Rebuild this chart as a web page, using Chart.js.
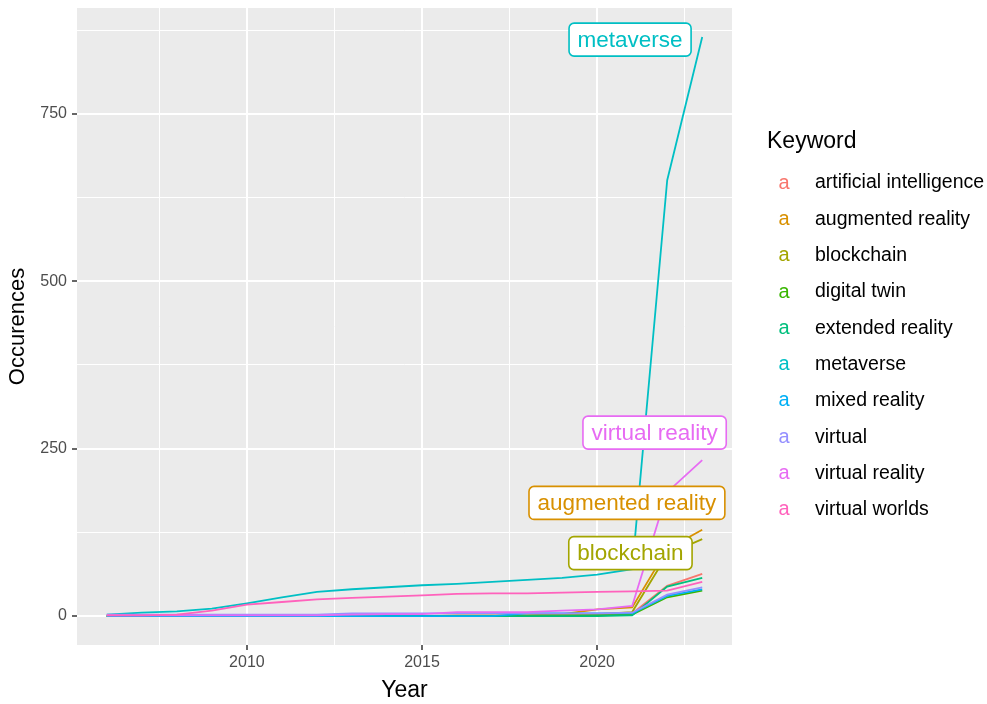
<html>
<head>
<meta charset="utf-8">
<script src="https://cdn.jsdelivr.net/npm/chart.js@4.4.0/dist/chart.umd.min.js"></script>
<style>
  body { margin:0; background:#ffffff; }
</style>
</head>
<body>
<canvas id="myChart" width="987" height="704"></canvas>
<script>
// data (cumulative occurences per year)
var years = [2006,2007,2008,2009,2010,2011,2012,2013,2014,2015,2016,2017,2018,2019,2020,2021,2022,2023];
var keywords = ['artificial intelligence','augmented reality','blockchain','digital twin','extended reality',
                'metaverse','mixed reality','virtual','virtual reality','virtual worlds'];
var colors = ['#F8766D','#D89000','#A3A500','#39B600','#00BF7D','#00BFC4','#00B0F6','#9590FF','#E76BF3','#FF62BC'];

var artificialIntelligence = [0,0,0,0,0,0,0,0,0,0,0,0,0,1,2,4,45,63];
var augmentedReality       = [0,0,0,0,0,0,0,0,0,0,1,1,1,3,10,13,100,129];
var blockchainVals         = [0,0,0,0,0,0,0,0,0,0,0,0,1,2,3,6,92,115];
var digitalTwin            = [0,0,0,0,0,0,0,0,0,0,0,0,0,0,1,2,28,38];
var extendedReality        = [0,0,0,0,0,0,0,0,0,0,0,0,0,0,0,1,44,57];
var metaverseVals          = [2,5,7,11,19,28,36,40,43,46,48,51,54,57,62,70,651,865];
var mixedReality           = [0,0,0,0,0,0,0,0,0,0,0,0,4,4,4,4,30,40];
var virtualVals            = [2,2,2,2,2,2,2,4,4,4,4,4,4,4,4,5,32,43];
var virtualReality         = [1,1,1,1,1,1,1,2,3,3,6,6,6,8,10,15,185,233];
var virtualWorlds          = [1,1,2,8,17,21,25,27,29,31,33,34,34,35,36,37,38,51];

var series = [artificialIntelligence,augmentedReality,blockchainVals,digitalTwin,extendedReality,
              metaverseVals,mixedReality,virtualVals,virtualReality,virtualWorlds];

var xTicks = [2007.5,2010,2012.5,2015,2017.5,2020,2022.5];
var xMajor = [2010,2015,2020];
var yTicks = [0,125,250,375,500,625,750,875];
var yMajor = [0,250,500,750];

// repelled labels (name, series index, centre in data units)
var labelNames = ['metaverse','virtual reality','augmented reality','blockchain'];
var labelSeries = [5,8,1,2];
var labelX = [2020.94,2021.64,2020.85,2020.95];
var labelY = [861,274,169,94];

var fontFam = '"Liberation Sans", Arial, sans-serif';

var datasets = [];
for (var i=0;i<keywords.length;i++){
    datasets.push({
        label: keywords[i],
        data: years.map(function(y,j){ return {x:y, y:series[i][j]}; }),
        borderColor: colors[i],
        backgroundColor: colors[i],
        borderWidth: 1.8,
        pointRadius: 0,
        tension: 0,
        order: keywords.length - i
    });
}

var panelBg = {
    id: 'panelBg',
    beforeDraw: function(chart){
        var a = chart.chartArea, ctx = chart.ctx;
        ctx.save();
        ctx.fillStyle = '#EBEBEB';
        ctx.fillRect(a.left, a.top, a.right-a.left, a.bottom-a.top);
        ctx.restore();
    }
};

var repelLabels = {
    id: 'repelLabels',
    afterDatasetsDraw: function(chart){
        var ctx = chart.ctx, xs = chart.scales.x, ys = chart.scales.y;
        ctx.save();
        ctx.font = '22.5px ' + fontFam;
        ctx.textAlign = 'center';
        ctx.textBaseline = 'middle';
        for (var i=0;i<labelNames.length;i++){
            var cx = xs.getPixelForValue(labelX[i]);
            var cy = ys.getPixelForValue(labelY[i]);
            var w = ctx.measureText(labelNames[i]).width + 17;
            var h = 33;
            var c = colors[labelSeries[i]];
            ctx.beginPath();
            ctx.roundRect(cx-w/2, cy-h/2, w, h, 5);
            ctx.fillStyle = '#ffffff';
            ctx.fill();
            ctx.lineWidth = 1.6;
            ctx.strokeStyle = c;
            ctx.stroke();
            ctx.fillStyle = c;
            ctx.fillText(labelNames[i], cx, cy+1);
        }
        ctx.restore();
    }
};

var keyLegend = {
    id: 'keyLegend',
    afterDraw: function(chart){
        var ctx = chart.ctx;
        ctx.save();
        ctx.textBaseline = 'middle';
        ctx.fillStyle = '#000000';
        ctx.font = '23px ' + fontFam;
        ctx.fillText('Keyword', 767, 142);
        for (var i=0;i<keywords.length;i++){
            var y = 183 + i*36.33;
            ctx.font = '20px ' + fontFam;
            ctx.textAlign = 'center';
            ctx.fillStyle = colors[i];
            ctx.fillText('a', 784, y);
            ctx.textAlign = 'left';
            ctx.fillStyle = '#000000';
            ctx.font = '19.5px ' + fontFam;
            ctx.fillText(keywords[i], 815, y);
        }
        ctx.restore();
    }
};

function isIn(v, arr){ return arr.indexOf(v) >= 0; }

var ctx = document.getElementById('myChart').getContext('2d');
var chart = new Chart(ctx, {
    type: 'line',
    data: { datasets: datasets },
    plugins: [panelBg, repelLabels, keyLegend],
    options: {
        responsive: false,
        animation: false,
        devicePixelRatio: 1,
        layout: { padding: { top: 8, right: 255, left: 0, bottom: 0 } },
        plugins: { legend: { display: false }, tooltip: { enabled: false } },
        scales: {
            x: {
                type: 'linear',
                min: 2005.15,
                max: 2023.85,
                afterBuildTicks: function(axis){ axis.ticks = xTicks.map(function(v){ return {value:v}; }); },
                afterFit: function(axis){ axis.height = 59; axis.paddingLeft = 0; axis.paddingRight = 0; },
                border: { display: false },
                grid: {
                    color: '#ffffff',
                    lineWidth: function(c){ return isIn(c.tick.value, xMajor) ? 2 : 1; },
                    tickColor: function(c){ return isIn(c.tick.value, xMajor) ? '#333333' : 'rgba(0,0,0,0)'; },
                    tickLength: 5,
                    tickWidth: 1.5
                },
                ticks: {
                    autoSkip: false,
                    maxRotation: 0,
                    padding: 3,
                    color: '#4D4D4D',
                    font: { family: fontFam, size: 16 },
                    callback: function(v){ return isIn(v, xMajor) ? String(v) : ''; }
                },
                title: {
                    display: true, text: 'Year', color: '#000000',
                    font: { family: fontFam, size: 23 },
                    padding: { top: 0, bottom: 0 }
                }
            },
            y: {
                type: 'linear',
                min: -43.25,
                max: 908.25,
                afterBuildTicks: function(axis){ axis.ticks = yTicks.map(function(v){ return {value:v}; }); },
                afterFit: function(axis){ axis.width = 77; axis.paddingTop = 0; axis.paddingBottom = 0; },
                border: { display: false },
                grid: {
                    color: '#ffffff',
                    lineWidth: function(c){ return isIn(c.tick.value, yMajor) ? 2 : 1; },
                    tickColor: function(c){ return isIn(c.tick.value, yMajor) ? '#333333' : 'rgba(0,0,0,0)'; },
                    tickLength: 5,
                    tickWidth: 1.5
                },
                ticks: {
                    autoSkip: false,
                    padding: 5,
                    color: '#4D4D4D',
                    font: { family: fontFam, size: 16 },
                    callback: function(v){ return isIn(v, yMajor) ? String(v) : ''; }
                },
                title: {
                    display: true, text: 'Occurences', color: '#000000',
                    font: { family: fontFam, size: 22 },
                    padding: { top: 5, bottom: 0 }
                }
            }
        }
    }
});
</script>
</body>
</html>
